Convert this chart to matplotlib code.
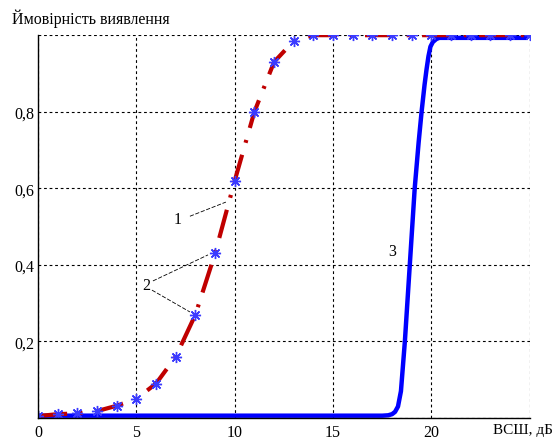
import numpy as np
import matplotlib.pyplot as plt

plt.rcParams['font.family'] = ['Liberation Serif', 'DejaVu Serif']

# curves 1 and 2: detection probability vs SNR (dB), integer SNR points
snr = [0, 1, 2, 3, 4, 5, 6, 7, 8, 9, 10, 11, 12, 13, 14, 15, 16, 17, 18, 19, 20, 21, 22, 23, 24, 25]
p_12 = [0.005, 0.01, 0.012, 0.018, 0.032, 0.05, 0.09, 0.16, 0.27, 0.43, 0.62, 0.80, 0.93, 0.985,
        1.0, 1.0, 1.0, 1.0, 1.0, 1.0, 1.0, 1.0, 1.0, 1.0, 1.0, 1.0]

# curve 3
snr_3 = [0, 5, 10, 15, 17.5, 17.8, 18.0, 18.15, 18.3, 18.45, 18.65, 18.9, 19.15, 19.35, 19.5,
         19.65, 19.75, 19.85, 19.95, 20.07, 20.25, 20.4, 22, 24.9]
p_3 = [0.006, 0.006, 0.006, 0.006, 0.006, 0.007, 0.01, 0.016, 0.03, 0.07, 0.2, 0.4, 0.6, 0.72, 0.8,
       0.87, 0.91, 0.945, 0.97, 0.982, 0.99, 0.993, 0.993, 0.993]

fig = plt.figure(figsize=(5.6, 4.39), dpi=100)
ax = fig.add_axes([0.068, 0.0456, 0.878, 0.872])

ax.plot(snr_3, p_3, color='#0000ff', lw=3.2, solid_capstyle='butt')
ax.plot(snr, p_12, color='#c00000', lw=3.0, linestyle=(0, (7, 3, 0.7, 3)))
ax.plot(snr, p_12, linestyle='none', marker=(8, 2, 0), ms=8, color='#3b3bff', mew=1.0)

ax.set_xlim(0, 25)
ax.set_ylim(0, 1)
ax.set_xticks([0, 5, 10, 15, 20, 25])
ax.set_xticklabels(['0', '5', '10', '15', '20', ''])
ax.set_yticks([0, 0.2, 0.4, 0.6, 0.8, 1.0])
ax.set_yticklabels(['', '0,2', '0,4', '0,6', '0,8', ''])
ax.tick_params(length=0, labelsize=11.5)
ax.tick_params(axis='y', pad=2.5)
ax.tick_params(axis='x', pad=4)
ax.grid(True, color='black', linestyle=(0, (2.5, 2.5)), lw=0.8)
ax.spines['top'].set_visible(False)
ax.spines['right'].set_visible(False)
ax.spines['left'].set_linewidth(1.0)
ax.spines['bottom'].set_linewidth(1.0)
ax.set_axisbelow(True)

ax.text(-0.053, 1.022, 'Ймовірність виявлення', transform=ax.transAxes, fontsize=11.5,
        ha='left', va='bottom')
fig.text(0.987, 0.012, 'ВСШ, дБ', fontsize=11, ha='right', va='baseline')

# curve labels with pointer lines
ax.text(7.1, 0.52, '1', fontsize=11.5, ha='center', va='center')
ax.plot([7.72, 9.55], [0.527, 0.564], color='black', lw=0.6, linestyle=(0, (5, 2)))
ax.text(5.49, 0.347, '2', fontsize=11.5, ha='center', va='center')
ax.plot([5.84, 8.64], [0.358, 0.426], color='black', lw=0.6, linestyle=(0, (5, 2)))
ax.plot([5.79, 7.72], [0.334, 0.277], color='black', lw=0.6, linestyle=(0, (5, 2)))
ax.text(18.0, 0.436, '3', fontsize=11.5, ha='center', va='center')

fig.savefig('out.png', dpi=100)
